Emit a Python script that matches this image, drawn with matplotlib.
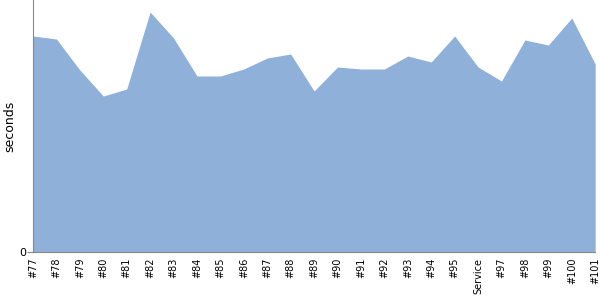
import matplotlib
import matplotlib.pyplot as plt
import numpy as np

matplotlib.use('Agg')

builds = ['#77', '#78', '#79', '#80', '#81', '#82', '#83', '#84', '#85',
          '#86', '#87', '#88', '#89', '#90', '#91', '#92', '#93', '#94',
          '#95', 'Service', '#97', '#98', '#99', '#100', '#101']
seconds = [216, 213, 182, 156, 163, 240, 214, 176, 176,
           183, 194, 198, 161, 185, 183, 183, 196, 190,
           216, 185, 171, 212, 207, 234, 188]

fig = plt.figure(figsize=(6, 3), dpi=100)
ax = fig.add_axes([0.055, 0.16, 0.937, 0.84])

x = np.arange(len(builds))
ax.fill_between(x, seconds, 0, color='#8fb1d9', linewidth=0)

ax.set_xlim(0, len(builds) - 1)
ax.set_ylim(0, 252)
ax.set_yticks([0])
ax.set_xticks(x)
ax.set_xticklabels(builds, rotation=90, fontsize=7)
ax.tick_params(axis='x', length=0, pad=4)
ax.tick_params(axis='y', length=4, labelsize=8, color='#888888', pad=1)
ax.set_ylabel('seconds', fontsize=9)
ax.yaxis.set_label_coords(-0.030, 0.5)

for side in ['top', 'right']:
    ax.spines[side].set_visible(False)
for side in ['left', 'bottom']:
    ax.spines[side].set_color('#888888')

fig.savefig('out.png', dpi=100)
